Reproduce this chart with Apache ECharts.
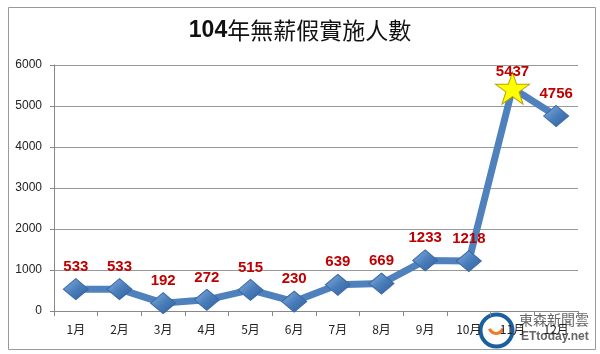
<html>
<head>
<meta charset="UTF-8">
<title>104年無薪假實施人數</title>
<script src="https://cdn.jsdelivr.net/npm/echarts@6/dist/echarts.min.js"></script>
<style>
  body { margin: 0; background: #fff; }
  #main { width: 600px; height: 354px; }
</style>
</head>
<body>
<div id="main"></div>
<script>
// 資料
var months = ['1月','2月','3月','4月','5月','6月','7月','8月','9月','10月','11月','12月'];
var workers = [533, 533, 192, 272, 515, 230, 639, 669, 1233, 1218, 5437, 4756];
var yTicks = { min: 0, max: 6000, interval: 1000 };

var myChart = echarts.init(document.getElementById('main'));

var diamond = {
  color: new echarts.graphic.LinearGradient(0, 0, 1, 1, [
    { offset: 0, color: '#8db3e2' },
    { offset: 0.5, color: '#4a7ebb' },
    { offset: 1, color: '#2c5d98' }
  ]),
  borderColor: '#3a6aa5',
  borderWidth: 1
};

// 11月用星形標記
var points = workers.map(function (v, i) {
  if (i === 10) {
    return {
      value: v,
      symbol: 'path://M50,0 L61.8,35.4 L99,35.4 L68.9,57.3 L80.3,92.7 L50,70.8 L19.7,92.7 L31.1,57.3 L1,35.4 L38.2,35.4 Z',
      symbolSize: [34, 32],
      itemStyle: { color: '#ffff00', borderColor: '#b8a200', borderWidth: 1 },
      label: { distance: -8 }
    };
  }
  return v;
});

var option = {
  animation: false,
  backgroundColor: '#fff',
  title: {
    text: '{b|104}{n|年無薪假實施人數}',
    left: 'center',
    top: 14,
    textStyle: {
      rich: {
        b: { fontSize: 23, fontWeight: 'bold', color: '#111', fontFamily: '"Liberation Sans", Arial, sans-serif' },
        n: { fontSize: 23, fontWeight: 'normal', color: '#111', fontFamily: '"Noto Sans CJK TC", sans-serif' }
      }
    }
  },
  grid: { left: 54, right: 22, top: 65, bottom: 43 },
  xAxis: {
    type: 'category',
    data: months,
    axisLine: { lineStyle: { color: '#888' } },
    axisTick: { show: true, interval: 0, lineStyle: { color: '#888' } },
    axisLabel: { color: '#222', fontSize: 12, margin: 12, fontFamily: '"Noto Sans CJK TC", sans-serif' }
  },
  yAxis: {
    type: 'value',
    min: yTicks.min,
    max: yTicks.max,
    interval: yTicks.interval,
    axisLine: { show: true, lineStyle: { color: '#888' } },
    axisTick: { show: true, inside: false, length: 4, lineStyle: { color: '#888' } },
    axisLabel: { color: '#222', fontSize: 12, margin: 12, formatter: function (v) { return String(v); }, fontFamily: 'Liberation Sans, Arial, sans-serif' },
    splitLine: { lineStyle: { color: '#999' } }
  },
  series: [{
    type: 'line',
    data: points,
    symbol: 'diamond',
    symbolSize: [25, 21],
    lineStyle: { color: '#4f81bd', width: 7 },
    itemStyle: diamond,
    label: {
      show: true,
      position: 'top',
      distance: 4,
      color: '#c00000',
      fontSize: 15,
      fontWeight: 'bold',
      fontFamily: 'Liberation Sans, Arial, sans-serif'
    }
  }],
  graphic: [
    { type: 'rect', left: 6, top: 5, shape: { width: 587, height: 342 }, style: { fill: 'none', stroke: '#999', lineWidth: 1 } },
    { type: 'circle', left: 478, top: 312, shape: { r: 16 }, style: { fill: 'none', stroke: '#1c5f9e', lineWidth: 4 } },
    { type: 'arc', left: 487, top: 326, shape: { cx: 0, cy: 0, r: 7, startAngle: 0.3, endAngle: 2.8 }, style: { stroke: '#f07a2a', lineWidth: 3, fill: 'none' } },
    { type: 'text', left: 519, top: 313, style: { text: '東森新聞雲', fill: '#666', font: '14px "Noto Sans CJK TC", sans-serif' } },
    { type: 'text', left: 521, top: 331, style: { text: 'ETtoday.net', fill: '#666', font: 'bold 12px "Liberation Sans", Arial, sans-serif' } }
  ]
};

myChart.setOption(option);
</script>
</body>
</html>
